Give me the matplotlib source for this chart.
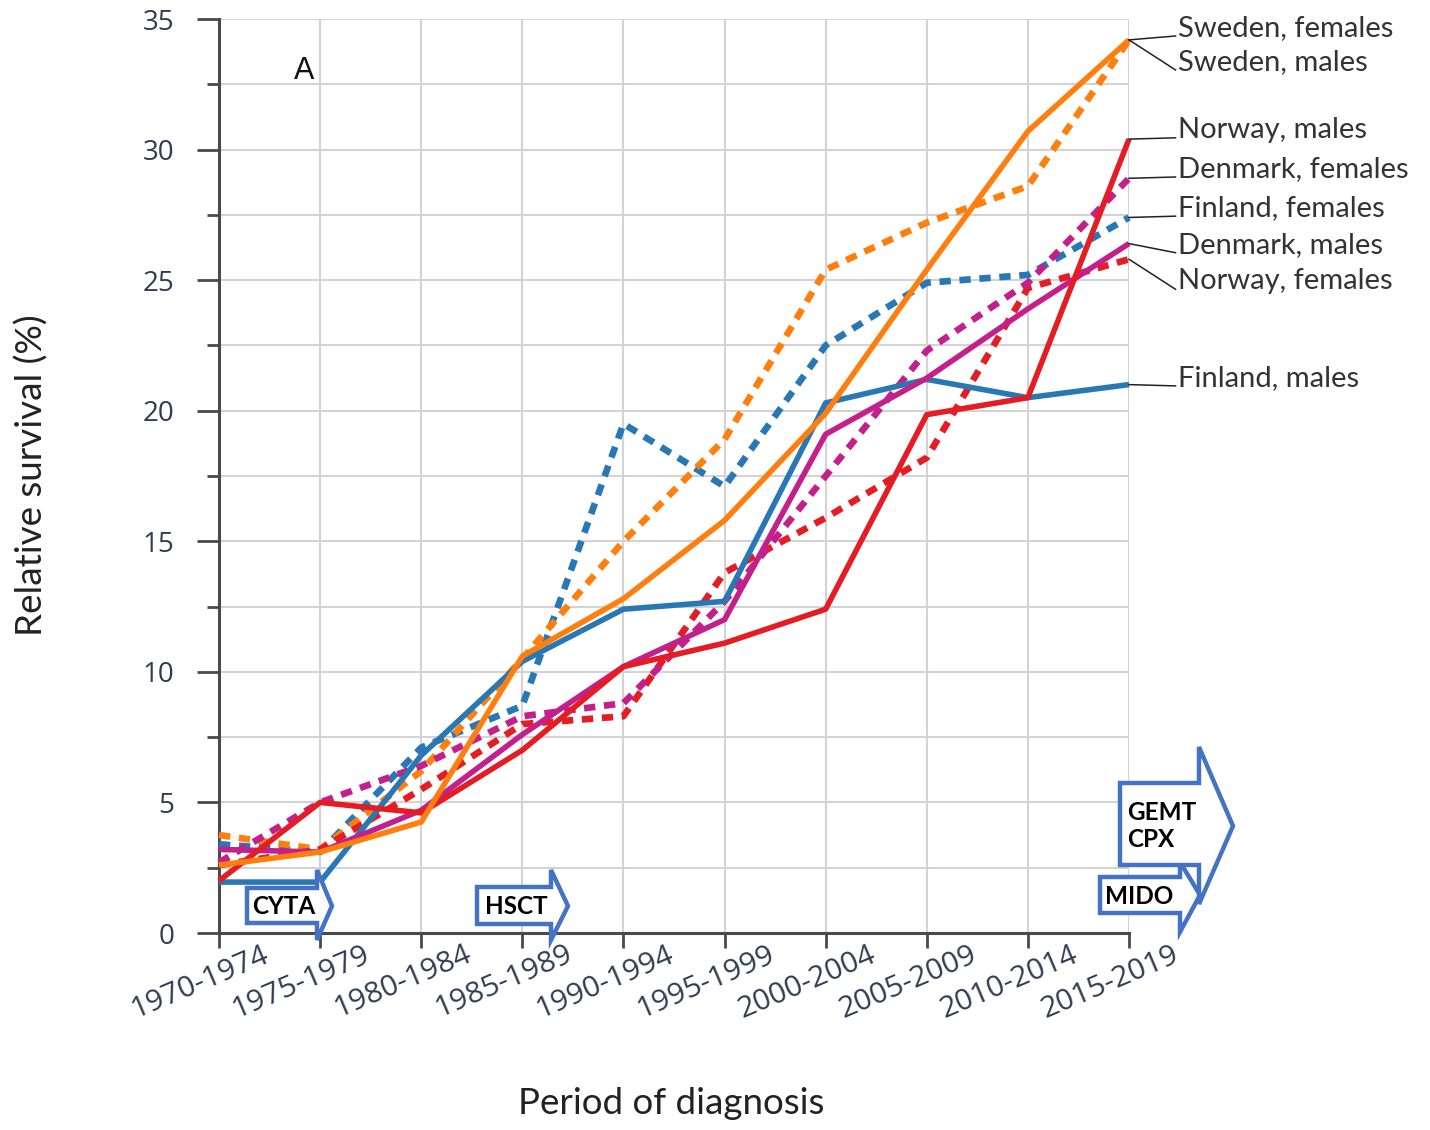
import numpy as np
import matplotlib
matplotlib.use("Agg")
import matplotlib.pyplot as plt
from matplotlib.patches import Polygon
from matplotlib.transforms import ScaledTranslation

# ---------------- data ----------------
periods = ['1970-1974', '1975-1979', '1980-1984', '1985-1989', '1990-1994',
           '1995-1999', '2000-2004', '2005-2009', '2010-2014', '2015-2019']

finland_males   = [1.95, 1.95, 6.8, 10.4, 12.4, 12.7, 20.3, 21.2, 20.5, 21.0]
finland_females = [3.4, 3.1, 7.1, 8.7, 19.5, 17.1, 22.5, 24.9, 25.2, 27.4]
sweden_males    = [2.6, 3.1, 4.25, 10.6, 12.8, 15.8, 19.9, 25.4, 30.7, 34.2]
sweden_females  = [3.75, 3.2, 6.2, 10.5, 15.0, 18.9, 25.4, 27.2, 28.6, 34.2]
norway_males    = [2.0, 5.0, 4.6, 7.0, 10.2, 11.1, 12.4, 19.85, 20.5, 30.4]
norway_females  = [2.6, 3.2, 5.5, 8.0, 8.3, 13.8, 15.9, 18.2, 24.7, 25.8]
denmark_males   = [3.2, 3.1, 4.7, 7.6, 10.2, 12.0, 19.1, 21.25, 23.9, 26.4]
denmark_females = [2.7, 5.0, 6.4, 8.3, 8.8, 12.7, 17.5, 22.3, 24.9, 28.9]

series_labels = ['Sweden, females', 'Sweden, males', 'Norway, males', 'Denmark, females',
                 'Finland, females', 'Denmark, males', 'Norway, females', 'Finland, males']
label_y = [34.35, 33.05, 30.45, 28.95, 27.45, 26.05, 24.65, 20.95]

treatments = ['CYTA', 'HSCT', 'GEMT\nCPX', 'MIDO']

# ---------------- style ----------------
BLUE = '#2878b5'
ORANGE = '#ff7f0e'
RED = '#e31d23'
MAGENTA = '#c4208c'
TICKCOL = '#2e3d52'
LABFONT = ['Lato', 'DejaVu Sans']
TICKFONT = ['Open Sans', 'DejaVu Sans']

W, H = 1430, 1130
fig = plt.figure(figsize=(W / 100, H / 100), dpi=100)
ax = fig.add_axes([219 / W, 1 - 933 / H, 910 / W, 914 / H])


def fx(px):
    return px / W


def fy(py):
    return 1 - py / H


x = np.arange(len(periods))
ax.set_xlim(0, 9)
ax.set_ylim(0, 35)

dot = (0, (1.7, 1.3))
series = [
    (finland_females, BLUE, dot, 4.8),
    (sweden_females, ORANGE, dot, 4.8),
    (norway_females, RED, dot, 4.8),
    (denmark_females, MAGENTA, dot, 4.8),
    (finland_males, BLUE, '-', 4.0),
    (denmark_males, MAGENTA, '-', 4.0),
    (norway_males, RED, '-', 4.0),
    (sweden_males, ORANGE, '-', 4.0),
]
for vals, col, ls, lw in series:
    ax.plot(x, vals, color=col, lw=lw, ls=ls, solid_capstyle='butt',
            dash_capstyle='butt', clip_on=False, zorder=3)

# grid & ticks
ax.set_yticks(np.arange(0, 36, 5))
ax.set_yticks(np.arange(2.5, 35, 5), minor=True)
ax.set_xticks(x)
ax.grid(which='both', axis='y', color='#d3d3d3', lw=1.5, zorder=0)
ax.grid(which='major', axis='x', color='#d3d3d3', lw=1.5, zorder=0)
ax.set_axisbelow(True)
for s in ['top', 'right']:
    ax.spines[s].set_visible(False)
for s in ['left', 'bottom']:
    ax.spines[s].set_color('#4a4a4a')
    ax.spines[s].set_linewidth(2.2)

ax.tick_params(axis='y', which='major', length=16, width=2, color='#4a4a4a', pad=16,
               labelsize=20, labelcolor=TICKCOL)
ax.tick_params(axis='y', which='minor', length=8.5, width=2, color='#4a4a4a')
ax.tick_params(axis='x', which='major', length=11, width=2, color='#4a4a4a', pad=2,
               labelsize=21.5, labelcolor=TICKCOL)
for lab in ax.get_yticklabels():
    lab.set_fontfamily(TICKFONT)

ax.set_xticklabels(periods, rotation=23, ha='right', va='top', rotation_mode='anchor',
                   fontfamily=TICKFONT)
for lab in ax.get_xticklabels():
    lab.set_transform(lab.get_transform() + ScaledTranslation(0.43, 0.11, fig.dpi_scale_trans))

fig.text(fx(32), fy(475), 'Relative survival (%)', rotation=90, fontsize=26.5,
         fontfamily=LABFONT, color='#222222', ha='center', va='center')
fig.text(fx(671), fy(1103), 'Period of diagnosis', fontsize=26.5,
         fontfamily=LABFONT, color='#222222', ha='center', va='center')

ax.text(0.093, 0.943, 'A', transform=ax.transAxes, fontsize=22,
        fontfamily=['Liberation Sans', 'DejaVu Sans'], color='#111111', ha='center', va='center')

# right-hand labels with leader lines
ends = [sweden_females[-1], sweden_males[-1], norway_males[-1], denmark_females[-1],
        finland_females[-1], denmark_males[-1], norway_females[-1], finland_males[-1]]
lx = 9.46
for lab, ly, ye in zip(series_labels, label_y, ends):
    ax.plot([9, lx], [ye, ly], color='#222222', lw=1.1, clip_on=False, zorder=4)
    ax.text(lx + 0.02, ly, lab, fontsize=21, fontfamily=LABFONT, color='#333333',
            ha='left', va='baseline', clip_on=False)


# treatment block arrows (figure pixel coordinates)
def block_arrow(x0, x1, y0, y1, ht, hb, tipx, tipy):
    pts = [(x0, y0), (x1, y0), (x1, ht), (tipx, tipy), (x1, hb), (x1, y1), (x0, y1)]
    poly = Polygon([(fx(a), fy(b)) for a, b in pts], closed=True, transform=fig.transFigure,
                   facecolor='white', edgecolor='#4472c4', lw=3.2, joinstyle='miter', zorder=10)
    fig.add_artist(poly)


block_arrow(247, 317, 888, 923, 870, 940, 332, 906)
block_arrow(477, 551, 887, 924, 870, 940, 568, 906)
block_arrow(1100, 1180, 877, 913, 862, 932, 1200, 895)
block_arrow(1120, 1199, 783, 865, 747, 904, 1233, 826)

bold = dict(fontsize=17.5, fontweight='bold', fontfamily=['Lato', 'DejaVu Sans'], color='black',
            transform=fig.transFigure, zorder=11)
fig.text(fx(284), fy(906), treatments[0], ha='center', va='center', **bold)
fig.text(fx(516), fy(907), treatments[1], ha='center', va='center', **bold)
fig.text(fx(1127), fy(826), treatments[2], ha='left', va='center', linespacing=1.25, **bold)
fig.text(fx(1105), fy(896), treatments[3], ha='left', va='center', **bold)

fig.savefig('out.png', dpi=100, facecolor='white')
